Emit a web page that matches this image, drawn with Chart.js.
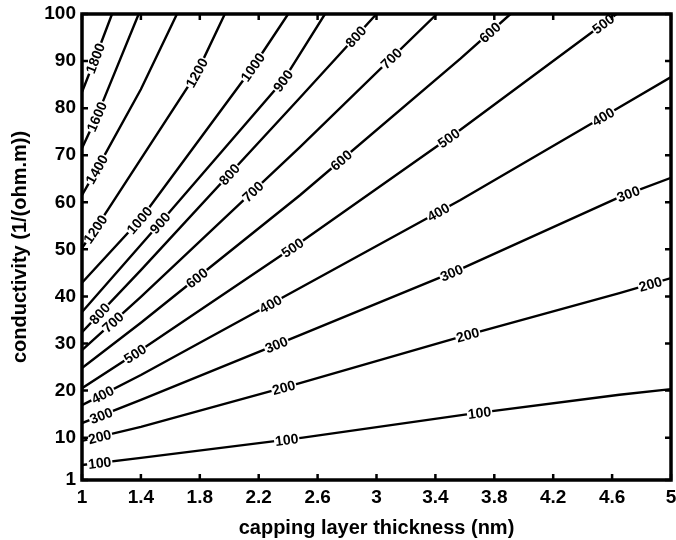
<!DOCTYPE html>
<html>
<head>
<meta charset="utf-8">
<script src="https://cdn.jsdelivr.net/npm/chart.js@4"></script>
<style>
  html, body { margin: 0; padding: 0; background: #fff; }
  #wrap { width: 676px; height: 540px; }
</style>
</head>
<body>
<div id="wrap"><canvas id="contourChart" width="676" height="540"></canvas></div>
<script>
const xTicks = [1, 1.4, 1.8, 2.2, 2.6, 3, 3.4, 3.8, 4.2, 4.6, 5];
const yTicks = [1, 10, 20, 30, 40, 50, 60, 70, 80, 90, 100];

// contour levels and the points [thickness, conductivity]
const levels = [100, 200, 300, 400, 500, 600, 700, 800, 900, 1000, 1200, 1400, 1600, 1800];
const line100 = [[1, 4.2], [1.4, 5.7], [2.5, 10.0], [3.6, 14.9], [4.65, 19.1], [5, 20.3]];
const line200 = [[1, 9.3], [1.4, 12.3], [2.48, 21.6], [3.57, 31.4], [4.65, 40.7], [5, 43.9]];
const line300 = [[1, 13.1], [1.4, 18.0], [2.48, 31.8], [3.57, 45.8], [4.65, 61.1], [5, 65.2]];
const line400 = [[1, 16.9], [1.4, 23.3], [2.48, 41.8], [3.57, 60.5], [4.65, 80.2], [5, 86.6]];
const line500 = [[1, 20.5], [1.4, 28.6], [2.48, 51.4], [3.57, 75.4], [4.63, 100]];
const line600 = [[1, 24.8], [1.4, 34.4], [2.48, 61.5], [3.57, 90.5], [3.91, 100]];
const line700 = [[1, 28.6], [1.4, 39.9], [2.48, 71.7], [3.41, 100]];
const line800 = [[1, 32.4], [1.4, 45.6], [2.48, 82.2], [3.0, 100]];
const line900 = [[1, 36.7], [1.53, 55.6], [2.37, 86.0], [2.65, 100]];
const line1000 = [[1, 42.9], [1.4, 56.5], [2.16, 88.7], [2.40, 100]];
const line1200 = [[1, 50.3], [1.09, 54.3], [1.78, 87.5], [1.97, 100]];
const line1400 = [[1, 61.5], [1.1, 67.0], [1.4, 84.0], [1.645, 100]];
const line1600 = [[1, 71.5], [1.1, 78.2], [1.385, 100]];
const line1800 = [[1, 83.4], [1.09, 90.6], [1.204, 100]];
const contourLines = [line100, line200, line300, line400, line500, line600, line700,
  line800, line900, line1000, line1200, line1400, line1600, line1800];

// where the inline level labels sit (thickness along each line)
const labels100 = [1.12, 2.39, 3.70];
const labels200 = [1.12, 2.37, 3.62, 4.86];
const labels300 = [1.13, 2.32, 3.51, 4.71];
const labels400 = [1.14, 2.28, 3.42, 4.54];
const labels500 = [1.36, 2.43, 3.49, 4.54];
const labels600 = [1.78, 2.76, 3.77];
const labels700 = [1.21, 2.16, 3.10];
const labels800 = [1.12, 2.0, 2.86];
const labels900 = [1.53, 2.365];
const labels1000 = [1.39, 2.16];
const labels1200 = [1.09, 1.78];
const labels1400 = [1.10];
const labels1600 = [1.10];
const labels1800 = [1.09];
const contourLabels = [labels100, labels200, labels300, labels400, labels500, labels600, labels700,
  labels800, labels900, labels1000, labels1200, labels1400, labels1600, labels1800];

function yOnLine(pts, x) {
  for (let i = 0; i < pts.length - 1; i++) {
    const a = pts[i], b = pts[i + 1];
    if (x >= a[0] && x <= b[0]) {
      const t = (x - a[0]) / (b[0] - a[0]);
      return a[1] + t * (b[1] - a[1]);
    }
  }
  return pts[pts.length - 1][1];
}

const contourLabelPlugin = {
  id: 'contourLabels',
  afterDatasetsDraw(chart) {
    const ctx = chart.ctx;
    const xs = chart.scales.x, ys = chart.scales.y;
    ctx.save();
    ctx.font = 'bold 14px "Liberation Sans", Arial, sans-serif';
    ctx.textAlign = 'center';
    ctx.textBaseline = 'middle';
    contourLines.forEach(function (pts, i) {
      const text = String(levels[i]);
      const w = ctx.measureText(text).width;
      contourLabels[i].forEach(function (lx) {
        const x0 = Math.max(pts[0][0], lx - 0.03);
        const x1 = Math.min(pts[pts.length - 1][0], lx + 0.03);
        const p0x = xs.getPixelForValue(x0), p0y = ys.getPixelForValue(yOnLine(pts, x0));
        const p1x = xs.getPixelForValue(x1), p1y = ys.getPixelForValue(yOnLine(pts, x1));
        const px = xs.getPixelForValue(lx), py = ys.getPixelForValue(yOnLine(pts, lx));
        const ang = Math.atan2(p1y - p0y, p1x - p0x);
        ctx.save();
        ctx.translate(px, py);
        ctx.rotate(ang);
        ctx.fillStyle = '#fff';
        ctx.fillRect(-w / 2 - 1, -5, w + 2, 10);
        ctx.fillStyle = '#000';
        ctx.fillText(text, 0, 1);
        ctx.restore();
      });
    });
    ctx.restore();
  },
  afterDraw(chart) {
    const ctx = chart.ctx;
    const a = chart.chartArea;
    const xs = chart.scales.x, ys = chart.scales.y;
    const len = 6;
    ctx.save();
    ctx.strokeStyle = '#000';
    ctx.lineWidth = 2.5;
    ctx.beginPath();
    xTicks.forEach(function (v) {
      const px = xs.getPixelForValue(v);
      ctx.moveTo(px, a.bottom); ctx.lineTo(px, a.bottom - len);
      ctx.moveTo(px, a.top); ctx.lineTo(px, a.top + len);
    });
    yTicks.forEach(function (v) {
      const py = ys.getPixelForValue(v);
      ctx.moveTo(a.left, py); ctx.lineTo(a.left + len, py);
      ctx.moveTo(a.right, py); ctx.lineTo(a.right - len, py);
    });
    ctx.stroke();
    ctx.lineWidth = 3.5;
    ctx.strokeRect(a.left, a.top, a.right - a.left, a.bottom - a.top);
    ctx.restore();
  }
};

const tickFont = { family: '"Liberation Sans", Arial, sans-serif', size: 19, weight: 'bold' };
const titleFont = { family: '"Liberation Sans", Arial, sans-serif', size: 20, weight: 'bold' };

new Chart(document.getElementById('contourChart').getContext('2d'), {
  type: 'scatter',
  data: {
    datasets: contourLines.map(function (pts, i) {
      return {
        label: String(levels[i]),
        data: pts.map(function (p) { return { x: p[0], y: p[1] }; }),
        showLine: true,
        borderColor: '#000',
        borderWidth: 2.4,
        pointRadius: 0,
        tension: 0
      };
    })
  },
  options: {
    responsive: false,
    animation: false,
    devicePixelRatio: 1,
    layout: { padding: { top: 14, right: 5, left: 0, bottom: 0 } },
    plugins: {
      legend: { display: false },
      tooltip: { enabled: false }
    },
    scales: {
      x: {
        type: 'linear',
        min: 1,
        max: 5,
        grid: { display: false, drawTicks: false },
        border: { display: false },
        afterBuildTicks: function (scale) { scale.ticks = xTicks.map(function (v) { return { value: v }; }); },
        afterFit: function (scale) { scale.height = 60; scale.paddingLeft = 0; scale.paddingRight = 0; },
        ticks: {
          color: '#000',
          font: tickFont,
          padding: 6,
          maxRotation: 0,
          callback: function (v) { return String(v); }
        },
        title: {
          display: true,
          text: 'capping layer thickness (nm)',
          color: '#000',
          font: titleFont,
          padding: { top: 7, bottom: 0 }
        }
      },
      y: {
        type: 'linear',
        min: 1,
        max: 100,
        grid: { display: false, drawTicks: false },
        border: { display: false },
        afterBuildTicks: function (scale) { scale.ticks = yTicks.map(function (v) { return { value: v }; }); },
        afterFit: function (scale) { scale.width = 82; scale.paddingTop = 0; scale.paddingBottom = 0; },
        ticks: {
          color: '#000',
          font: tickFont,
          padding: 6,
          callback: function (v) { return String(v); }
        },
        title: {
          display: true,
          text: 'conductivity (1/(ohm.m))',
          color: '#000',
          font: titleFont,
          padding: { top: 8, bottom: 0 }
        }
      }
    }
  },
  plugins: [contourLabelPlugin]
});
</script>
</body>
</html>
